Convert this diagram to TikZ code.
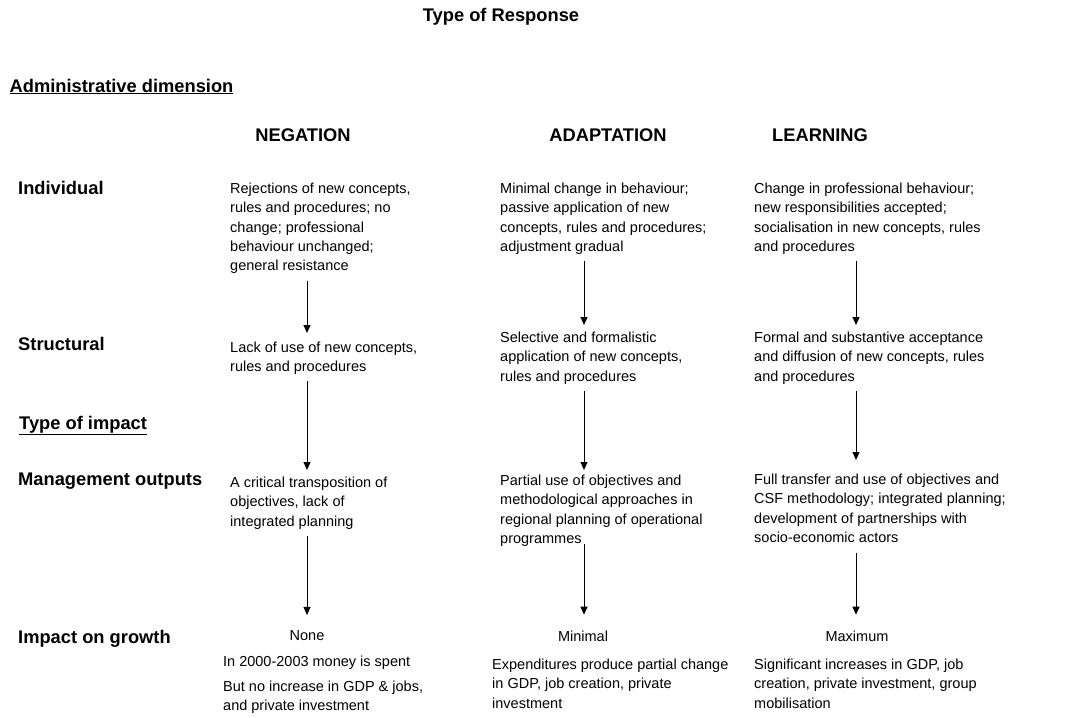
\documentclass[tikz,border=0pt]{standalone}
\usepackage{fontspec}
\setmainfont{Liberation Sans}
\usetikzlibrary{arrows.meta}
\begin{document}
\begin{tikzpicture}[x=1pt,y=-1pt,
  bighead/.style={font=\fontsize{18.3}{22}\selectfont\bfseries, inner sep=0pt},
  rowlab/.style={font=\fontsize{18.3}{22}\selectfont\bfseries, inner sep=0pt, anchor=base west},
  body/.style={font=\fontsize{14.5}{19.3}\selectfont, align=left, anchor=north west, inner sep=0pt},
  lvl/.style={font=\fontsize{14.5}{19.3}\selectfont, inner sep=0pt, anchor=center},
  arr/.style={-{Triangle[length=8pt,width=7pt]}, line width=1pt}]
\useasboundingbox (0,0) rectangle (1075,717);
% title and headings
\node[bighead, anchor=base] (title) at (501,22) {Type of Response};
\node[rowlab] (admin) at (9.5,92) {\underline{Administrative dimension}};
\node[bighead] (hneg) at (303,135) {NEGATION};
\node[bighead] (hada) at (608,135) {ADAPTATION};
\node[bighead] (hlea) at (820,135) {LEARNING};
% row labels
\node[rowlab] (lind) at (18,194) {Individual};
\node[rowlab] (lstr) at (18,350) {Structural};
\node[rowlab] (ltyp) at (19,429) {\underline{Type of impact}};
\node[rowlab] (lman) at (18,485) {Management outputs};
\node[rowlab] (limp) at (18,643) {Impact on growth};
% individual row
\node[body] (ind1) at (230,182.8) {Rejections of new concepts,\\rules and procedures; no\\change; professional\\behaviour unchanged;\\general resistance};
\node[body] (ind2) at (500,182.8) {Minimal change in behaviour;\\passive application of new\\concepts, rules and procedures;\\adjustment gradual};
\node[body] (ind3) at (754,182.8) {Change in professional behaviour;\\new responsibilities accepted;\\socialisation in new concepts, rules\\and procedures};
% structural row
\node[body] (str1) at (230,341.8) {Lack of use of new concepts,\\rules and procedures};
\node[body] (str2) at (500,331.8) {Selective and formalistic\\application of new concepts,\\rules and procedures};
\node[body] (str3) at (754,331.8) {Formal and substantive acceptance\\and diffusion of new concepts, rules\\and procedures};
% management outputs row
\node[body] (man1) at (230,476.8) {A critical transposition of\\objectives, lack of\\integrated planning};
\node[body] (man2) at (500,474.8) {Partial use of objectives and\\methodological approaches in\\regional planning of operational\\programmes};
\node[body] (man3) at (754,473.8) {Full transfer and use of objectives and\\CSF methodology; integrated planning;\\development of partnerships with\\socio-economic actors};
% impact row
\node[lvl] (imp1) at (307,636) {None};
\node[lvl] (imp2) at (583,636) {Minimal};
\node[lvl] (imp3) at (857,636) {Maximum};
\node[body] (res1a) at (223,655.8) {In 2000-2003 money is spent};
\node[body] (res1b) at (223,680.8) {But no increase in GDP \& jobs,\\and private investment};
\node[body] (res2) at (492,658.8) {Expenditures produce partial change\\in GDP, job creation, private\\investment};
\node[body] (res3) at (754,658.8) {Significant increases in GDP, job\\creation, private investment, group\\mobilisation};
% arrow columns
\coordinate (X1) at (307,0);
\coordinate (X2) at (584,0);
\coordinate (X3) at (856,0);
\draw[arr, shorten <=6.6pt, shorten >=8.8pt] (ind1.south -| X1) -- (str1.north -| X1);
\draw[arr, shorten <=5.9pt, shorten >=6.8pt] (ind2.south -| X2) -- (str2.north -| X2);
\draw[arr, shorten <=5.9pt, shorten >=6.8pt] (ind3.south -| X3) -- (str3.north -| X3);
\draw[arr, shorten <=5.5pt, shorten >=6.8pt] (str1.south -| X1) -- (man1.north -| X1);
\draw[arr, shorten <=6.2pt, shorten >=4.8pt] (str2.south -| X2) -- (man2.north -| X2);
\draw[arr, shorten <=6.2pt, shorten >=13.8pt] (str3.south -| X3) -- (man3.north -| X3);
\draw[arr, shorten <=6.2pt, shorten >=15.8pt] (man1.south -| X1) -- (imp1.north -| X1);
\draw[arr, shorten <=-3.1pt, shorten >=15.8pt] (man2.south -| X2) -- (imp2.north -| X2);
\draw[arr, shorten <=10.7pt, shorten >=15.8pt] (man3.south -| X3) -- (imp3.north -| X3);
\end{tikzpicture}
\end{document}
